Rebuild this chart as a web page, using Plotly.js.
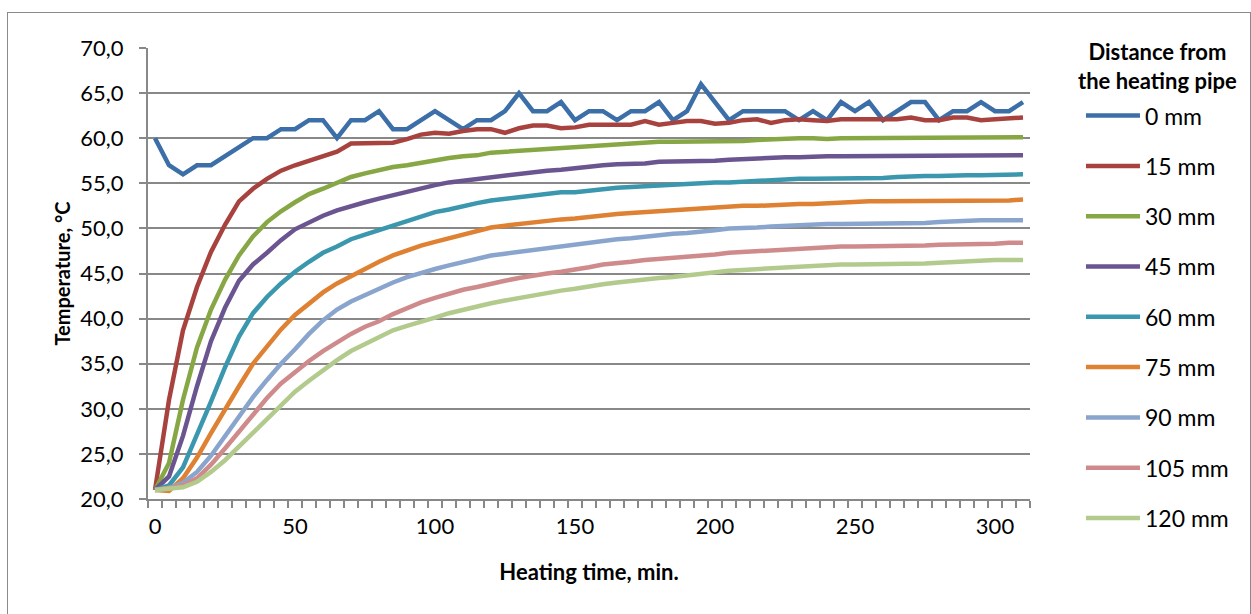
<!DOCTYPE html>
<html><head><meta charset="utf-8">
<script src="https://cdn.plot.ly/plotly-3.0.1.min.js"></script>
<style>
html,body{margin:0;padding:0;background:#fff;overflow:hidden}
#chart{position:absolute;left:0;top:0;width:1251px;height:614px}
#frame{position:absolute;left:7px;top:12px;width:1242px;height:700px;border:1px solid #8a8a8a;pointer-events:none}
</style></head><body>
<div id="chart"></div><div id="frame"></div>
<script>
const time = [0,5,10,15,20,25,30,35,40,45,50,55,60,65,70,75,80,85,90,95,100,105,110,115,120,125,130,135,140,145,150,155,160,165,170,175,180,185,190,195,200,205,210,215,220,225,230,235,240,245,250,255,260,265,270,275,280,285,290,295,300,305,310];

const seriesNames = ['0 mm','15 mm','30 mm','45 mm','60 mm','75 mm','90 mm','105 mm','120 mm'];
const legendTitle = 'Distance from<br>the heating pipe';

const mm0 = [60,57,56,57,57,58,59,60,60,61,
  61,62,62,60,62,62,63,61,61,62,
  63,62,61,62,62,63,65,63,63,64,
  62,63,63,62,63,63,64,62,63,66,
  64,62,63,63,63,63,62,63,62,64,
  63,64,62,63,64,64,62,63,63,64,
  63,63,64];
const mm15 = [21.0,31.0,38.7,43.5,47.4,50.4,53.0,54.4,55.5,56.4,
  57.0,57.5,58.0,58.5,59.4,59.4,59.5,59.5,59.9,60.4,
  60.6,60.5,60.8,61.0,61.0,60.6,61.1,61.4,61.4,61.1,
  61.2,61.5,61.5,61.5,61.5,61.9,61.5,61.7,61.9,61.9,
  61.6,61.7,62.0,62.1,61.7,62.0,62.1,62.0,61.9,62.1,
  62.1,62.0,62.0,62.1,62.3,62.0,62.0,62.3,62.3,62.0,
  62.1,62.2,62.3];
const mm30 = [21.0,24.0,31.0,36.8,41.0,44.3,47.0,49.1,50.7,51.9,
  52.9,53.8,54.4,55.0,55.7,56.1,56.5,56.8,57.0,57.3,
  57.5,57.8,58.0,58.1,58.4,58.5,58.6,58.7,58.9,59.0,
  59.1,59.2,59.3,59.4,59.5,59.5,59.6,59.6,59.6,59.6,
  59.7,59.7,59.7,59.8,59.9,60.0,60.0,60.0,59.9,60.0,
  60.0,60.0,60.0,60.0,60.0,60.0,60.0,60.0,60.0,60.0,
  60.0,60.1,60.1];
const mm45 = [21.0,22.5,27.0,32.5,37.5,41.2,44.2,46.0,47.3,48.7,
  49.9,50.7,51.4,52.0,52.5,52.9,53.3,53.7,54.1,54.4,
  54.8,55.1,55.3,55.5,55.7,55.9,56.1,56.3,56.4,56.5,
  56.7,56.8,57.0,57.1,57.1,57.2,57.4,57.4,57.5,57.5,
  57.5,57.6,57.7,57.7,57.8,57.9,57.9,58.0,58.0,58.0,
  58.0,58.1,58.1,58.1,58.1,58.1,58.1,58.1,58.1,58.1,
  58.1,58.1,58.1];
const mm60 = [21.0,21.5,23.5,27.0,30.8,34.6,38.0,40.6,42.4,43.9,
  45.2,46.3,47.3,48.0,48.8,49.3,49.8,50.4,50.9,51.4,
  51.8,52.1,52.5,52.8,53.1,53.3,53.5,53.7,53.8,54.0,
  54.0,54.2,54.4,54.5,54.6,54.7,54.8,54.9,55.0,55.0,
  55.1,55.1,55.2,55.3,55.4,55.4,55.5,55.5,55.5,55.6,
  55.6,55.6,55.6,55.7,55.8,55.8,55.8,55.9,55.9,55.9,
  55.9,55.9,56.0];
const mm75 = [21.0,20.9,22.3,24.6,27.3,30.0,32.5,35.0,37.0,38.8,
  40.4,41.6,42.9,43.9,44.7,45.6,46.3,47.0,47.6,48.1,
  48.5,48.9,49.4,49.7,50.1,50.3,50.5,50.7,50.9,51.0,
  51.1,51.3,51.5,51.6,51.7,51.8,52.0,52.1,52.1,52.2,
  52.3,52.4,52.5,52.5,52.6,52.6,52.7,52.7,52.8,52.9,
  53.0,53.0,53.0,53.0,53.0,53.0,53.1,53.1,53.1,53.1,
  53.1,53.1,53.2];
const mm90 = [21.0,21.2,21.8,23.0,24.8,27.0,29.2,31.3,33.2,35.0,
  36.6,38.3,39.8,41.0,41.9,42.6,43.4,44.0,44.6,45.1,
  45.5,45.9,46.3,46.6,47.0,47.2,47.4,47.6,47.9,48.1,
  48.3,48.5,48.7,48.8,48.9,49.1,49.2,49.4,49.5,49.6,
  49.8,50.0,50.0,50.1,50.2,50.3,50.4,50.4,50.5,50.5,
  50.5,50.5,50.6,50.6,50.6,50.6,50.7,50.8,50.9,50.9,
  50.9,50.9,50.9];
const mm105 = [21.0,21.2,21.5,22.3,23.8,25.6,27.5,29.4,31.2,32.8,
  34.1,35.3,36.4,37.4,38.3,39.1,39.7,40.5,41.2,41.8,
  42.3,42.8,43.2,43.5,43.9,44.2,44.5,44.8,45.0,45.2,
  45.4,45.7,46.0,46.1,46.3,46.5,46.6,46.8,46.9,47.0,
  47.1,47.3,47.4,47.5,47.6,47.6,47.7,47.8,47.9,48.0,
  48.0,48.0,48.0,48.0,48.1,48.1,48.2,48.2,48.3,48.3,
  48.3,48.4,48.4];
const mm120 = [21.0,21.1,21.3,21.9,23.0,24.3,25.8,27.4,28.9,30.4,
  31.9,33.1,34.3,35.4,36.4,37.2,38.0,38.7,39.2,39.6,
  40.1,40.6,41.0,41.4,41.7,42.0,42.3,42.6,42.9,43.1,
  43.3,43.6,43.8,44.0,44.2,44.3,44.5,44.6,44.8,45.0,
  45.2,45.3,45.4,45.5,45.6,45.7,45.8,45.9,45.9,46.0,
  46.0,46.0,46.0,46.0,46.1,46.1,46.2,46.3,46.4,46.5,
  46.5,46.5,46.5];

const xTickVals = [0,50,100,150,200,250,300];
const xTickText = ['0','50','100','150','200','250','300'];

const seriesValues = [mm0,mm15,mm30,mm45,mm60,mm75,mm90,mm105,mm120];
const colors = ['#3c6fa8','#a8423f','#86a743','#6a5590','#3a97ae','#df8132','#8aa5cd','#cf8b8b','#b2cb8d'];

const FONT = 'Lato, "Open Sans", sans-serif';

const traces = seriesValues.map((vals, i) => ({
  type: 'scatter', mode: 'lines',
  x: time, y: vals, name: seriesNames[i],
  legendgroup: 'g' + i,
  line: {color: colors[i], width: 4.5},
  hoverinfo: 'x+y+name'
}));

const gridCol = '#888888';
const layout = {
  width: 1251, height: 614,
  margin: {l: 148, r: 221, t: 48, b: 115},
  paper_bgcolor: '#ffffff', plot_bgcolor: '#ffffff',
  separators: ', ',
  font: {family: FONT, size: 22, color: '#000'},
  showlegend: true,
  xaxis: {
    range: [-2.5, 312.5],
    tickmode: 'array', tickvals: xTickVals, ticktext: xTickText,
    ticks: '', showgrid: false, zeroline: false,
    showline: true, linecolor: gridCol, linewidth: 2,
    minor: {tick0: -2.5, dtick: 5, ticks: 'outside', ticklen: 7, tickwidth: 2, tickcolor: gridCol, showgrid: false},
    ticklabelstandoff: 7,
    tickfont: {family: FONT, size: 22, color: '#000'},
    title: {text: 'Heating time, min.', font: {family: FONT, size: 22, weight: 'bold', color: '#000'}, standoff: 26}
  },
  yaxis: {
    range: [20, 70], tick0: 20, dtick: 5, tickformat: '.1f',
    ticks: 'outside', ticklen: 7, tickwidth: 2, tickcolor: gridCol,
    showgrid: true, gridcolor: gridCol, gridwidth: 2,
    showline: true, linecolor: gridCol, linewidth: 2, zeroline: false,
    ticklabelstandoff: 11,
    tickfont: {family: FONT, size: 22, color: '#000'},
    title: {text: 'Temperature, °C', font: {family: FONT, size: 20, weight: 'bold', color: '#000'}, standoff: 4}
  },
  legend: {
    x: 1.0578, xanchor: 'left', y: 0.8977, yanchor: 'top',
    traceorder: 'grouped', tracegroupgap: 17.4,
    itemwidth: 54, maxheight: 700,
    font: {family: FONT, size: 23, color: '#000'},
    bgcolor: 'rgba(0,0,0,0)'
  },
  annotations: [{
    xref: 'paper', yref: 'paper', x: 1.1451, y: 0.960,
    xanchor: 'center', yanchor: 'middle', align: 'center',
    text: legendTitle, showarrow: false,
    font: {family: FONT, size: 22, weight: 'bold', color: '#000'}
  }]
};

Plotly.newPlot('chart', traces, layout, {displayModeBar: false, staticPlot: true});
</script></body></html>
